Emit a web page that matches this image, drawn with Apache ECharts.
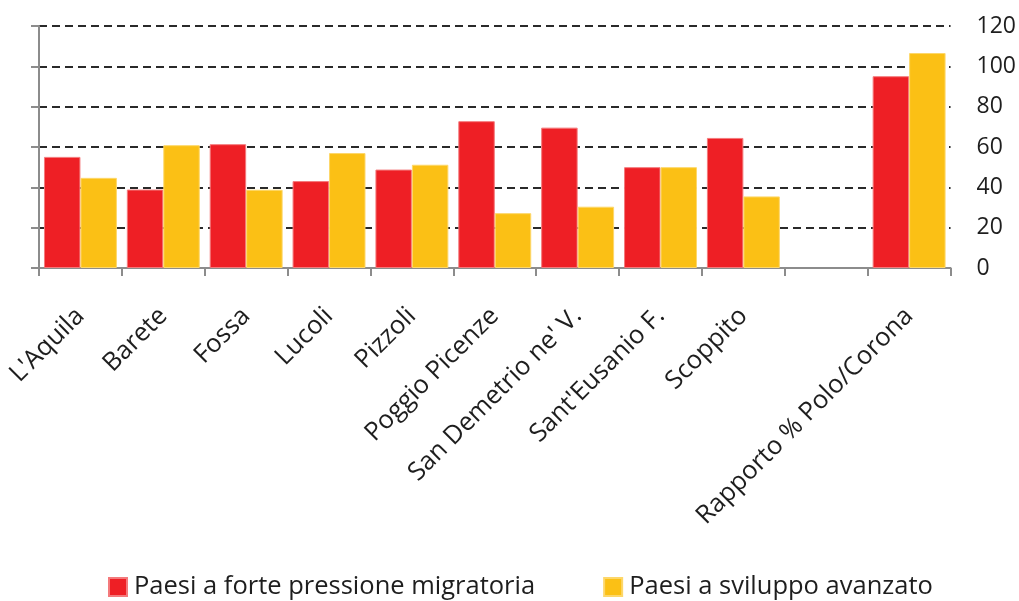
<!DOCTYPE html>
<html>
<head>
<meta charset="utf-8">
<script src="https://cdn.jsdelivr.net/npm/echarts@6/dist/echarts.min.js"></script>
<style>
  html, body { margin: 0; padding: 0; background: #fff; }
  #chart { width: 1019px; height: 601px; }
</style>
</head>
<body>
<div id="chart"></div>
<script>
// Comuni del cratere aquilano e rapporto Polo/Corona
const categories = [
  "L'Aquila", 'Barete', 'Fossa', 'Lucoli', 'Pizzoli', 'Poggio Picenze',
  "San Demetrio ne' V.", "Sant'Eusanio F.", 'Scoppito', '', 'Rapporto % Polo/Corona'
];
const seriesNames = ['Paesi a forte pressione migratoria', 'Paesi a sviluppo avanzato'];
const pressioneMigratoria = [55.1, 38.9, 61.4, 43.1, 48.8, 72.8, 69.6, 50.0, 64.5, null, 95.1];
const sviluppoAvanzato   = [44.7, 60.9, 38.8, 57.0, 51.2, 27.2, 30.4, 50.0, 35.5, null, 106.6];
const yTicks = { min: 0, max: 120, interval: 20 };

const font = '"Open Sans", "Noto Sans", sans-serif';
const textColor = '#1e1e1e';
const chart = echarts.init(document.getElementById('chart'), null, { renderer: 'canvas' });

chart.setOption({
  backgroundColor: '#ffffff',
  animation: false,
  textStyle: { fontFamily: font },
  grid: { left: 39, right: 66, top: 26, bottom: 333, containLabel: false },
  legend: {
    top: 569,
    left: 103,
    itemWidth: 18,
    itemHeight: 18,
    itemGap: 68,
    icon: 'rect',
    textStyle: { fontSize: 25.5, color: textColor, fontFamily: font, padding: [0, 0, 0, 2] },
    data: seriesNames
  },
  xAxis: {
    type: 'category',
    data: categories,
    axisLine: { show: true, lineStyle: { color: '#8c8c8c', width: 2 } },
    axisTick: { show: true, length: 8, alignWithLabel: false, lineStyle: { color: '#8c8c8c', width: 2 } },
    axisLabel: {
      interval: 0, rotate: 45, margin: 44,
      fontSize: 25.5, color: textColor, fontFamily: font
    },
    splitLine: { show: false }
  },
  yAxis: [
    {
      type: 'value', position: 'left',
      min: yTicks.min, max: yTicks.max, interval: yTicks.interval,
      axisLine: { show: true, lineStyle: { color: '#8c8c8c', width: 2 } },
      axisTick: { show: true, length: 8, lineStyle: { color: '#8c8c8c', width: 2 } },
      axisLabel: { show: false },
      splitLine: { show: true, lineStyle: { color: '#2a2a2a', width: 2, type: [8, 5] } }
    },
    {
      type: 'value', position: 'right',
      min: yTicks.min, max: yTicks.max, interval: yTicks.interval,
      axisLine: { show: false },
      axisTick: { show: false },
      axisLabel: { show: true, fontSize: 23, color: textColor, margin: 26, fontFamily: font },
      splitLine: { show: false }
    }
  ],
  series: [
    {
      name: seriesNames[0], type: 'bar', data: pressioneMigratoria,
      barGap: '0%', barCategoryGap: '12%',
      itemStyle: { color: '#ee1f25', borderColor: '#f47a7c', borderWidth: 1 }
    },
    {
      name: seriesNames[1], type: 'bar', data: sviluppoAvanzato,
      barGap: '0%', barCategoryGap: '12%',
      itemStyle: { color: '#fbc015', borderColor: '#fdd76a', borderWidth: 1 }
    }
  ]
});
</script>
</body>
</html>
